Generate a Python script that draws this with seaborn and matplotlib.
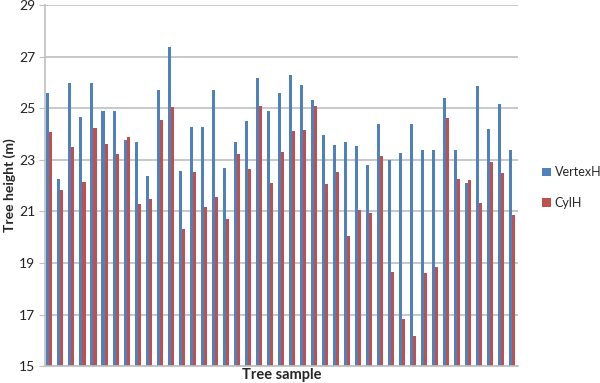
import numpy as np
import pandas as pd
import matplotlib
matplotlib.use("Agg")
import matplotlib.pyplot as plt
import seaborn as sns

# --- Datos ---
vertex_h = [25.57, 22.27, 25.98, 24.66, 25.98, 24.88, 24.88, 23.77, 23.68, 22.36,
            25.69, 27.36, 22.58, 24.28, 24.28, 25.70, 22.70, 23.68, 24.50, 26.16,
            24.88, 25.58, 26.27, 25.88, 25.30, 23.97, 23.58, 23.68, 23.52, 22.79,
            24.38, 22.98, 23.28, 24.38, 23.38, 23.38, 25.40, 23.38, 22.09, 25.86,
            24.20, 25.17, 23.38]
cyl_h = [24.08, 21.82, 23.50, 22.12, 24.24, 23.62, 23.24, 23.88, 21.28, 21.49,
         24.56, 25.06, 20.32, 22.53, 21.17, 21.54, 20.72, 23.22, 22.64, 25.10,
         22.09, 23.32, 24.10, 24.16, 25.10, 22.05, 22.52, 20.04, 21.07, 20.94,
         23.14, 18.65, 16.83, 16.17, 18.62, 18.84, 24.60, 22.26, 22.21, 21.31,
         22.91, 22.48, 20.84]
samples = [str(i + 1) for i in range(len(vertex_h))]
series_names = ["VertexH", "CylH"]
y_ticks = [15, 17, 19, 21, 23, 25, 27, 29]

df = pd.DataFrame({
    "sample": samples * 2,
    "height": vertex_h + cyl_h,
    "serie": [series_names[0]] * len(samples) + [series_names[1]] * len(samples),
})

sns.set_style("white")
plt.rcParams["font.family"] = ["Lato", "DejaVu Sans"]

fig = plt.figure(figsize=(6, 3.83), dpi=100)
ax = fig.add_axes([0.075, 0.044, 0.788, 0.943])

sns.barplot(data=df, x="sample", y="height", hue="serie",
            palette=["#4F81BD", "#C0504D"], width=0.55, ax=ax,
            saturation=1, edgecolor="none", legend=True)

ax.set_ylim(15, 29)
ax.set_yticks(y_ticks)
ax.set_yticklabels([str(t) for t in y_ticks], fontsize=10, color="#222222")
ax.set_xticks([])
ax.set_xlim(-0.4, len(samples) - 0.5)
ax.yaxis.grid(True, color="#BFBFBF", linewidth=1.2)
ax.set_axisbelow(True)

for s in ["top", "right"]:
    ax.spines[s].set_visible(False)
for s in ["left", "bottom"]:
    ax.spines[s].set_color("#BFBFBF")
    ax.spines[s].set_linewidth(1.2)
ax.tick_params(axis="y", length=4, color="#BFBFBF", pad=3, left=True)

ax.set_ylabel("Tree height (m)", fontsize=10, fontweight="bold")
ax.yaxis.set_label_coords(-0.062, 0.5)
ax.set_xlabel("Tree sample", fontsize=10.5, fontweight="bold", labelpad=1)

handles, labels = ax.get_legend_handles_labels()
ax.legend(handles, labels, loc="center left", bbox_to_anchor=(0.885, 0.51),
          bbox_transform=fig.transFigure, frameon=False, fontsize=9,
          handlelength=0.7, handleheight=0.7, handletextpad=0.3,
          labelspacing=1.5)

fig.savefig("out.png", dpi=100)
